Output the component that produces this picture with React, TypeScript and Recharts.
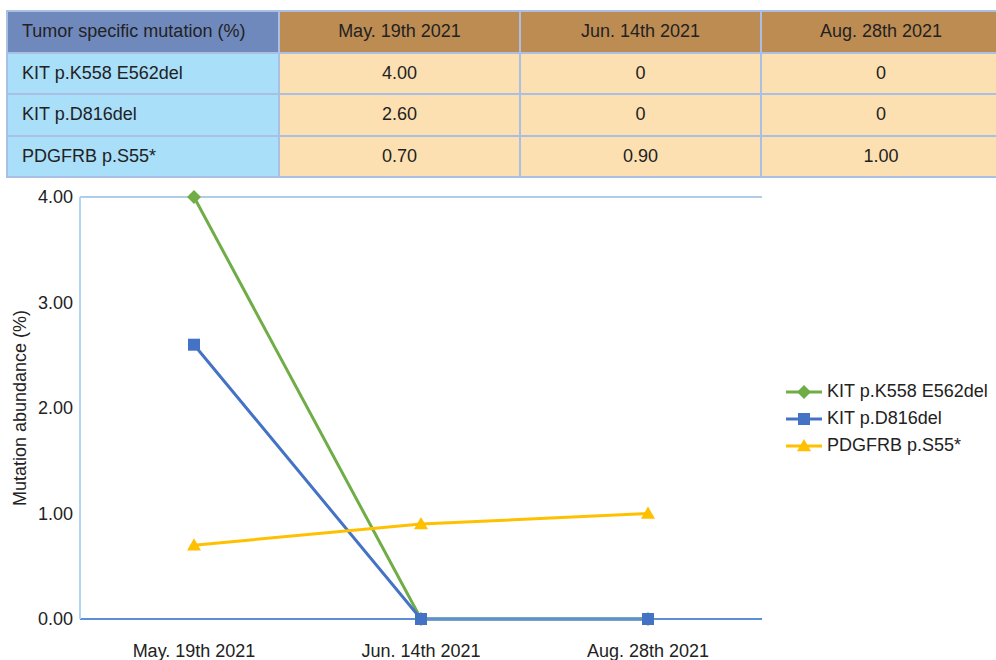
import React from "react";
import {
  LineChart,
  Line,
  XAxis,
  YAxis,
  CartesianGrid,
  Legend,
  ReferenceLine,
} from "recharts";

const dates = ["May. 19th 2021", "Jun. 14th 2021", "Aug. 28th 2021"];
const kitK558 = [4.0, 0, 0];
const kitD816 = [2.6, 0, 0];
const pdgfrb = [0.7, 0.9, 1.0];
const yTicks = [0, 1, 2, 3, 4];

const tableRows = [
  { name: "KIT p.K558 E562del", values: ["4.00", "0", "0"] },
  { name: "KIT p.D816del", values: ["2.60", "0", "0"] },
  { name: "PDGFRB p.S55*", values: ["0.70", "0.90", "1.00"] },
];

const series = [
  { key: "k558", name: "KIT p.K558 E562del", color: "#70ad47", shape: "diamond" },
  { key: "d816", name: "KIT p.D816del", color: "#4472c4", shape: "square" },
  { key: "s55", name: "PDGFRB p.S55*", color: "#ffc000", shape: "triangle" },
];

const data = dates.map((d, i) => ({
  date: d,
  k558: kitK558[i],
  d816: kitD816[i],
  s55: pdgfrb[i],
}));

const FONT = "'Liberation Sans', Arial, Helvetica, sans-serif";
const border = "2px solid #a9bfe3";

function Marker({ shape, color, cx, cy }: { shape: string; color: string; cx: number; cy: number }) {
  if (shape === "diamond") {
    const r = 7;
    return <polygon points={`${cx},${cy - r} ${cx + r},${cy} ${cx},${cy + r} ${cx - r},${cy}`} fill={color} />;
  }
  if (shape === "square") {
    const r = 6;
    return <rect x={cx - r} y={cy - r} width={r * 2} height={r * 2} fill={color} />;
  }
  const r = 7;
  return <polygon points={`${cx},${cy - r} ${cx + r},${cy + r * 0.75} ${cx - r},${cy + r * 0.75}`} fill={color} />;
}

function makeDot(shape: string, color: string) {
  return (props: any) => {
    const { cx, cy, index } = props;
    if (cx == null || cy == null) return <g key={index} />;
    return <Marker key={index} shape={shape} color={color} cx={cx} cy={cy} />;
  };
}

function LegendContent() {
  return (
    <div style={{ fontFamily: FONT, fontSize: 18, color: "#222" }}>
      {series.map((s) => (
        <div key={s.key} style={{ display: "flex", alignItems: "center", height: 27 }}>
          <svg width={40} height={20} style={{ marginRight: 2 }}>
            <line x1={1} y1={10} x2={37} y2={10} stroke={s.color} strokeWidth={3} />
            <Marker shape={s.shape} color={s.color} cx={19} cy={10} />
          </svg>
          <span>{s.name}</span>
        </div>
      ))}
    </div>
  );
}

const cell: React.CSSProperties = {
  border,
  height: 39.5,
  padding: 0,
  fontSize: 18,
  color: "#222",
};

export default function App() {
  return (
    <div
      style={{
        position: "absolute",
        left: 0,
        top: 0,
        width: 996,
        height: 660,
        background: "#fff",
        overflow: "hidden",
        fontFamily: FONT,
      }}
    >
      <table
        style={{
          position: "absolute",
          left: 6,
          top: 10,
          borderCollapse: "collapse",
          width: 994,
          tableLayout: "fixed",
          fontFamily: FONT,
        }}
      >
        <colgroup>
          <col style={{ width: 272 }} />
          <col style={{ width: 241 }} />
          <col style={{ width: 241 }} />
          <col style={{ width: 240 }} />
        </colgroup>
        <thead>
          <tr>
            <th style={{ ...cell, background: "#7089bd", textAlign: "left", paddingLeft: 14, fontWeight: 400 }}>
              Tumor specific mutation (%)
            </th>
            {dates.map((d) => (
              <th key={d} style={{ ...cell, background: "#bd8c52", textAlign: "center", fontWeight: 400 }}>
                {d}
              </th>
            ))}
          </tr>
        </thead>
        <tbody>
          {tableRows.map((r) => (
            <tr key={r.name}>
              <td style={{ ...cell, background: "#a9dff9", paddingLeft: 14 }}>{r.name}</td>
              {r.values.map((v, i) => (
                <td key={i} style={{ ...cell, background: "#fde0b2", textAlign: "center" }}>
                  {v}
                </td>
              ))}
            </tr>
          ))}
        </tbody>
      </table>

      <div style={{ position: "absolute", left: 0, top: 180 }}>
        <LineChart
          width={996}
          height={480}
          data={data}
          margin={{ top: 17, right: 234, bottom: 0, left: 0 }}
          style={{ fontFamily: FONT }}
        >
          <CartesianGrid vertical={false} stroke="#d9d9d9" strokeWidth={1.5} />
          <XAxis
            dataKey="date"
            height={41}
            padding={{ left: 114, right: 114 }}
            tickLine={false}
            axisLine={{ stroke: "#5b8fd6", strokeWidth: 2 }}
            tick={{ fontSize: 18, fill: "#222" }}
            tickMargin={19}
            interval={0}
          />
          <YAxis
            yAxisId="left"
            width={80}
            domain={[0, 4]}
            ticks={yTicks}
            tickFormatter={(v: number) => v.toFixed(2)}
            tickLine={false}
            axisLine={{ stroke: "#b4d5f2", strokeWidth: 2 }}
            tick={{ fontSize: 18, fill: "#222" }}
            tickMargin={1}
            label={{
              value: "Mutation abundance (%)",
              angle: -90,
              position: "center",
              dx: -20,
              style: { fontSize: 18, fill: "#222", textAnchor: "middle" },
            }}
          />
          <YAxis
            yAxisId="right"
            orientation="right"
            width={0}
            domain={[0, 4]}
            ticks={yTicks}
            tick={false}
            tickLine={false}
            axisLine={{ stroke: "#9fc6ea", strokeWidth: 1.5 }}
          />
          <ReferenceLine yAxisId="left" y={4} stroke="#9fc6ea" strokeWidth={1.5} />
          <Legend
            layout="horizontal"
            verticalAlign="middle"
            align="center"
            content={<LegendContent />}
            wrapperStyle={{ left: 785, top: 198, width: 211 }}
          />
          {series.map((s) => (
            <Line
              key={s.key}
              yAxisId="left"
              type="linear"
              dataKey={s.key}
              name={s.name}
              stroke={s.color}
              strokeWidth={3}
              dot={makeDot(s.shape, s.color)}
              activeDot={false}
              isAnimationActive={false}
            />
          ))}
        </LineChart>
      </div>
    </div>
  );
}
